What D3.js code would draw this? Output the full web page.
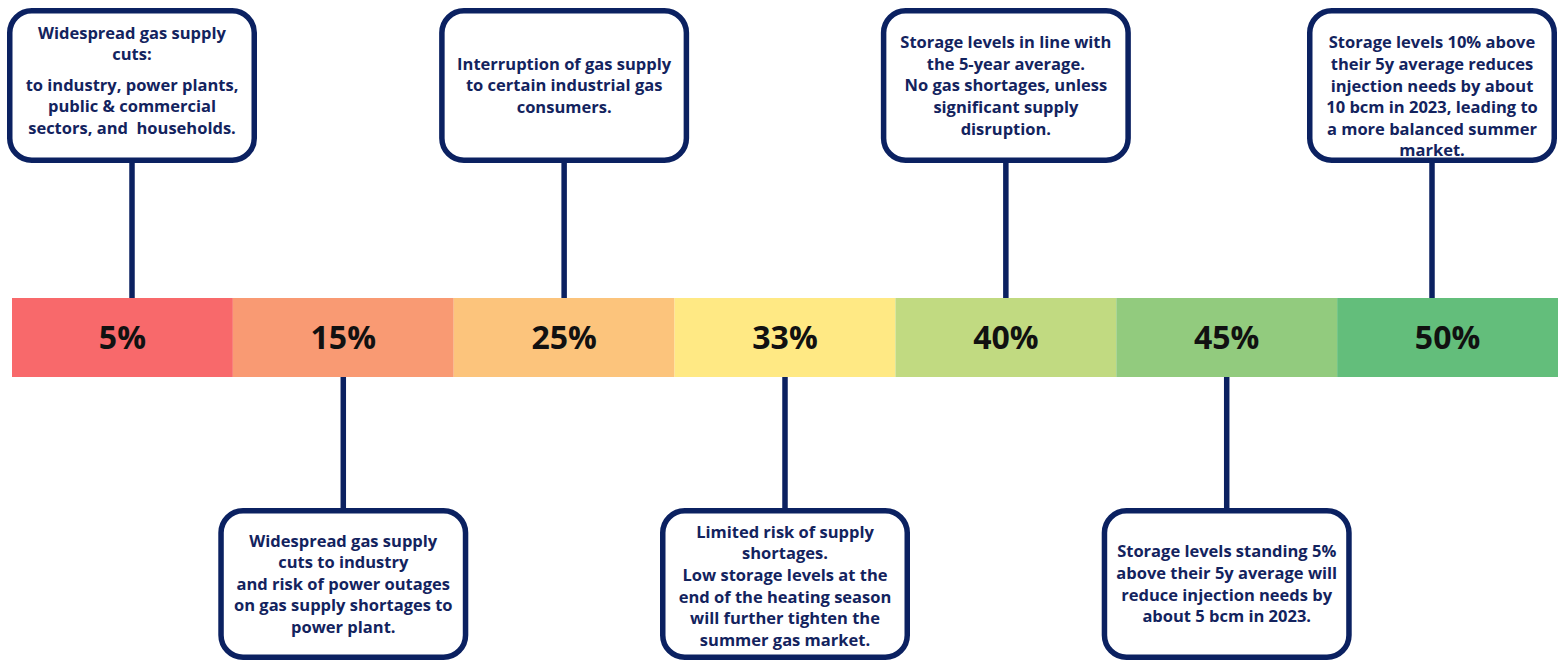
<!DOCTYPE html>
<html>
<head>
<meta charset="utf-8">
<script src="https://cdn.jsdelivr.net/npm/d3@7/dist/d3.min.js"></script>
<style>
  html, body { margin: 0; padding: 0; background: #ffffff; }
  svg { display: block; }
  .note text { white-space: pre; }
</style>
</head>
<body>
<svg id="chart" width="1558" height="663"></svg>
<script>
// Storage fill levels along the scale
const levels = ["5%", "15%", "25%", "33%", "40%", "45%", "50%"];

// Red-to-green scale colour for each level
const levelColors = ["#F8696B", "#F99A73", "#FCC47C", "#FFE984", "#C1DA81", "#92CB7E", "#63BE7B"];

// Whether each level's note sits above or below the scale
const notePlacement = ["above", "below", "above", "below", "above", "below", "above"];

// Note text for each level: paragraphs, each a list of lines
const noteParagraphs = [
  [["Widespread gas supply", "cuts:"],
   ["to industry, power plants,", "public & commercial", "sectors, and  households."]],
  [["Widespread gas supply", "cuts to industry", "and risk of power outages", "on gas supply shortages to", "power plant."]],
  [["Interruption of gas supply", "to certain industrial gas", "consumers."]],
  [["Limited risk of supply", "shortages.", "Low storage levels at the", "end of the heating season", "will further tighten the", "summer gas market."]],
  [["Storage levels in line with", "the 5-year average.", "No gas shortages, unless", "significant supply", "disruption."]],
  [["Storage levels standing 5%", "above their 5y average will", "reduce injection needs by", "about 5 bcm in 2023."]],
  [["Storage levels 10% above", "their 5y average reduces", "injection needs by about", "10 bcm in 2023, leading to", "a more balanced summer", "market."]]
];

const W = 1558, H = 663;
const navy = "#0B2161";
const textNavy = "#13235E";

const svg = d3.select("#chart");

const x = d3.scaleBand().domain(levels).range([12, W]).padding(0);

const bar = { top: 298, height: 79 };
const box = { w: 250, aboveTop: 8, aboveH: 155, belowTop: 508, belowH: 152, r: 22, stroke: 5.5 };
const lineH = 21.6, paraGap = 9;
// small vertical nudges of the text block inside some boxes
const textNudge = { "5%": -5, "33%": 2, "50%": 11 };

const items = levels.map((lv, i) => ({
  level: lv,
  color: levelColors[i],
  side: notePlacement[i],
  paras: noteParagraphs[i]
}));

// Box centre: over its segment, kept inside the drawing area
function boxCenter(d) {
  const c = x(d.level) + x.bandwidth() / 2;
  return Math.max(7 + box.w / 2, Math.min(W - 1 - box.w / 2, c));
}

// Connectors
svg.append("g").selectAll("line").data(items).join("line")
  .attr("x1", d => boxCenter(d))
  .attr("x2", d => boxCenter(d))
  .attr("y1", d => d.side === "above" ? box.aboveTop + box.aboveH : bar.top + bar.height)
  .attr("y2", d => d.side === "above" ? bar.top : box.belowTop)
  .attr("stroke", navy)
  .attr("stroke-width", 5.5);

// Scale segments
const seg = svg.append("g").selectAll("g").data(items).join("g");
seg.append("rect")
  .attr("x", d => x(d.level))
  .attr("y", bar.top)
  .attr("width", x.bandwidth())
  .attr("height", bar.height)
  .attr("fill", d => d.color);
seg.append("text")
  .attr("x", d => x(d.level) + x.bandwidth() / 2)
  .attr("y", bar.top + bar.height / 2 + 11.5)
  .attr("text-anchor", "middle")
  .attr("font-family", "'Open Sans', sans-serif")
  .attr("font-weight", 700)
  .attr("font-size", 32)
  .attr("fill", "#111111")
  .text(d => d.level);

// Note boxes
const notes = svg.append("g").selectAll("g").data(items).join("g").attr("class", "note");
notes.append("rect")
  .attr("x", d => boxCenter(d) - box.w / 2 + box.stroke / 2)
  .attr("y", d => (d.side === "above" ? box.aboveTop : box.belowTop) + box.stroke / 2)
  .attr("width", box.w - box.stroke)
  .attr("height", d => (d.side === "above" ? box.aboveH : box.belowH) - box.stroke)
  .attr("rx", box.r).attr("ry", box.r)
  .attr("fill", "#ffffff")
  .attr("stroke", navy)
  .attr("stroke-width", box.stroke);

notes.each(function(d) {
  const g = d3.select(this);
  const top = d.side === "above" ? box.aboveTop : box.belowTop;
  const h = d.side === "above" ? box.aboveH : box.belowH;
  const rows = [];
  let offset = 0;
  d.paras.forEach((p, pi) => {
    if (pi > 0) offset += paraGap;
    p.forEach(t => { rows.push({ t, y: offset }); offset += lineH; });
  });
  const blockH = offset;
  const blockTop = top + h / 2 - blockH / 2 + (textNudge[d.level] || 0);
  const startY = blockTop + lineH / 2;
  g.selectAll("text.line").data(rows).join("text")
    .attr("class", "line")
    .attr("x", boxCenter(d))
    .attr("y", r => startY + r.y + 5.8)
    .attr("text-anchor", "middle")
    .attr("font-family", "'Open Sans', sans-serif")
    .attr("font-weight", 700)
    .attr("font-size", 16.5)
    .attr("fill", textNavy)
    .text(r => r.t);
});
</script>
</body>
</html>
